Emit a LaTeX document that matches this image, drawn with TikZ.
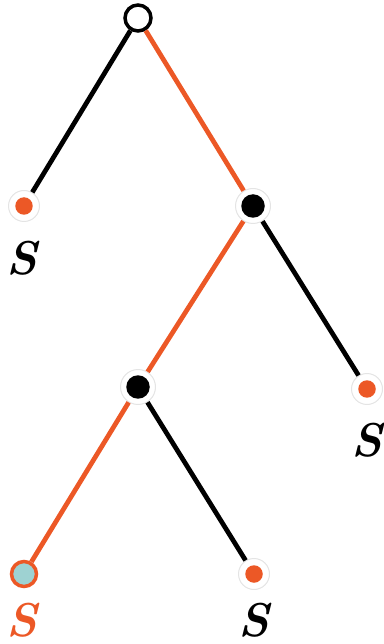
\documentclass[tikz,border=0pt]{standalone}
\usepackage{tikz}
\usetikzlibrary{positioning}

\definecolor{treeorange}{RGB}{236,88,38}
\definecolor{treeblue}{RGB}{158,210,210}
\definecolor{halogray}{RGB}{228,228,228}

\tikzset{
  edge/.style={line width=0.095cm, black},
  hotedge/.style={line width=0.095cm, treeorange},
  rootnode/.style={circle, draw=black, line width=0.07cm, fill=white, minimum size=0.52cm, inner sep=0pt},
  leafnode/.style={circle, draw=halogray, line width=0.02cm, fill=white, minimum size=0.62cm, inner sep=0pt,
    path picture={\fill[treeorange] (path picture bounding box.center) circle (0.175cm);}},
  chosenleaf/.style={circle, draw=treeorange, line width=0.07cm, fill=treeblue, minimum size=0.5cm, inner sep=0pt},
  splitnode/.style={circle, draw=halogray, line width=0.02cm, fill=white, minimum size=0.7cm, inner sep=0pt,
    path picture={\fill[black] (path picture bounding box.center) circle (0.235cm);}},
  slabel/.style={font=\fontsize{27}{27}\selectfont\bfseries\itshape, inner sep=0pt}
}

\begin{document}
\begin{tikzpicture}[x=0.02cm, y=-0.02cm]
\useasboundingbox (0,0) rectangle (384,644);
% tree nodes
\node[rootnode] (root) at (138,18) {};
\node[leafnode] (leafL) at (24,206) {};
\node[splitnode] (splitR) at (253,206) {};
\node[splitnode] (splitM) at (138,387) {};
\node[leafnode] (leafR) at (367,389) {};
\node[chosenleaf] (leafBL) at (24,574) {};
\node[leafnode] (leafBR) at (254,574) {};
% labels
\node[slabel] (sL) at (22,258) {S};
\node[slabel] (sR) at (367,440) {S};
\node[slabel, text=treeorange] (sBL) at (22,620) {S};
\node[slabel] (sBR) at (254,620) {S};
% edges
\draw[edge] (root) -- (leafL);
\draw[hotedge] (root) -- (splitR);
\draw[hotedge] (splitR) -- (splitM);
\draw[edge] (splitR) -- (leafR);
\draw[hotedge] (splitM) -- (leafBL);
\draw[edge] (splitM) -- (leafBR);
\end{tikzpicture}
\end{document}
